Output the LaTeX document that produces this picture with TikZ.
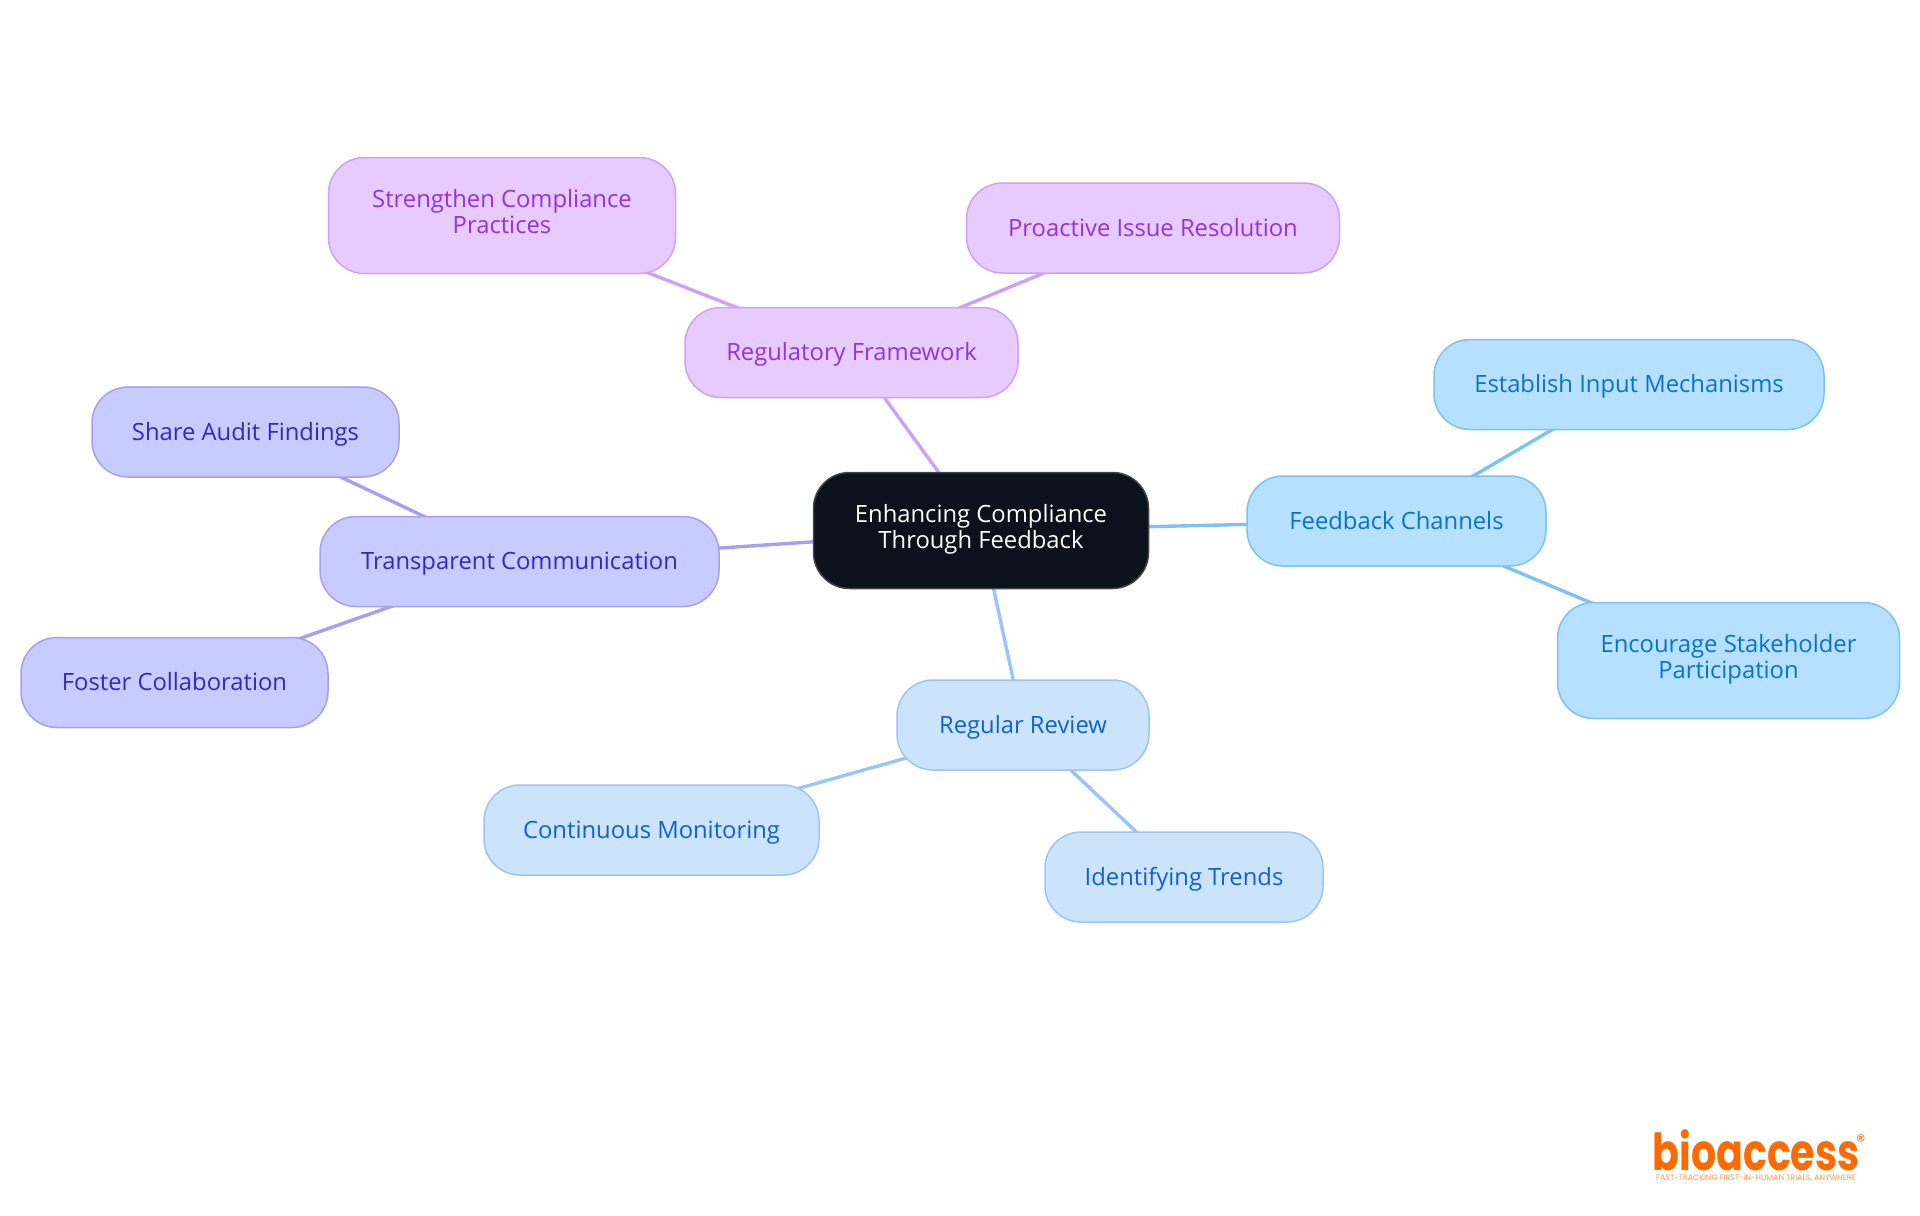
\documentclass[tikz,border=0pt]{standalone}
\usepackage{fontspec}
\setmainfont{Open Sans}
\newfontfamily\logofont[FakeStretch=.775]{Poppins}
\newfontfamily\taglinefont{Poppins}
\usetikzlibrary{backgrounds}
\definecolor{rootfill}{HTML}{0B121B}
\definecolor{rootline}{HTML}{3F454C}
\definecolor{purplefill}{HTML}{E7CBFF}
\definecolor{purpleline}{HTML}{CDA2F5}
\definecolor{purpletext}{HTML}{9333DC}
\definecolor{indigofill}{HTML}{C8CBFF}
\definecolor{indigoline}{HTML}{A3A0F2}
\definecolor{indigotext}{HTML}{3527C4}
\definecolor{skyfill}{HTML}{B5E0FF}
\definecolor{skyline}{HTML}{7CC2F3}
\definecolor{skytext}{HTML}{0A72C7}
\definecolor{bluefill}{HTML}{CCE3FC}
\definecolor{blueline}{HTML}{9CC5F3}
\definecolor{bluetext}{HTML}{1062CF}
\definecolor{logoorange}{HTML}{FF6A00}
\newcommand{\twolines}[2]{\begin{tabular}{@{}c@{}}#1\\#2\end{tabular}}
\tikzset{
  mapnode/.style={draw, line width=.75pt, rounded corners=18pt, align=center, font=\fontsize{11.9}{13}\selectfont, inner sep=0pt, execute at begin node={\rule{0pt}{11pt}}, execute at end node={\rule[-3pt]{0pt}{3pt}}},
  purplenode/.style={mapnode, fill=purplefill, draw=purpleline, text=purpletext},
  indigonode/.style={mapnode, fill=indigofill, draw=indigoline, text=indigotext},
  skynode/.style={mapnode, fill=skyfill, draw=skyline, text=skytext},
  bluenode/.style={mapnode, fill=bluefill, draw=blueline, text=bluetext},
  mapedge/.style={line width=1.7pt}
}
\begin{document}
\begin{tikzpicture}[x=.5pt, y=-.5pt]
\useasboundingbox (0,0) rectangle (1920,1215);
\node[mapnode, fill=rootfill, draw=rootline, text=white, minimum width=167.5pt, minimum height=58pt](root) at (981,530.5){\twolines{Enhancing Compliance}{Through Feedback}};
\node[purplenode, minimum width=166.5pt, minimum height=45pt](framework) at (851.5,352.5){Regulatory Framework};
\node[purplenode, minimum width=173.5pt, minimum height=58pt](strengthen) at (502,215.5){\twolines{Strengthen Compliance}{Practices}};
\node[purplenode, minimum width=186.5pt, minimum height=45pt](proactive) at (1153,228){Proactive Issue Resolution};
\node[skynode, minimum width=149.5pt, minimum height=45pt](channels) at (1396.5,521){Feedback Channels};
\node[skynode, minimum width=195pt, minimum height=45pt](establish) at (1629,384.5){Establish Input Mechanisms};
\node[skynode, minimum width=171pt, minimum height=58pt](encourage) at (1728.5,660.5){\twolines{Encourage Stakeholder}{Participation}};
\node[indigonode, minimum width=199.5pt, minimum height=45pt](transparent) at (519.5,561.5){Transparent Communication};
\node[indigonode, minimum width=153.5pt, minimum height=45pt](share) at (245.5,432){Share Audit Findings};
\node[indigonode, minimum width=153.5pt, minimum height=45pt](foster) at (174.5,682.5){Foster Collaboration};
\node[bluenode, minimum width=126pt, minimum height=45pt](review) at (1023,725){Regular Review};
\node[bluenode, minimum width=167.5pt, minimum height=45pt](monitoring) at (651.5,830){Continuous Monitoring};
\node[bluenode, minimum width=139pt, minimum height=45pt](trends) at (1184,877){Identifying Trends};
\node[text=logoorange, font=\logofont\fontsize{25.5}{26}\bfseries\selectfont, inner sep=0pt](logo) at (1756,1150){bioaccess};
\node[text=logoorange, font=\taglinefont\fontsize{9}{10}\selectfont, inner sep=0pt](logomark) at (1861,1141){\textregistered};
\node[text=logoorange!70, font=\taglinefont\fontsize{3.95}{4}\selectfont, inner sep=0pt](tagline) at (1756,1178){FAST-TRACKING FIRST-IN-HUMAN TRIALS, ANYWHERE};
\begin{scope}[on background layer]
\draw[mapedge, purpleline](root.center)--(framework.center);
\draw[mapedge, purpleline](framework.center)--(strengthen.center);
\draw[mapedge, purpleline](framework.center)--(proactive.center);
\draw[mapedge, skyline](root.center)--(channels.center);
\draw[mapedge, skyline](channels.center)--(establish.center);
\draw[mapedge, skyline](channels.center)--(encourage.center);
\draw[mapedge, indigoline](root.center)--(transparent.center);
\draw[mapedge, indigoline](transparent.center)--(share.center);
\draw[mapedge, indigoline](transparent.center)--(foster.center);
\draw[mapedge, blueline](root.center)--(review.center);
\draw[mapedge, blueline](review.center)--(monitoring.center);
\draw[mapedge, blueline](review.center)--(trends.center);
\end{scope}
\end{tikzpicture}
\end{document}
